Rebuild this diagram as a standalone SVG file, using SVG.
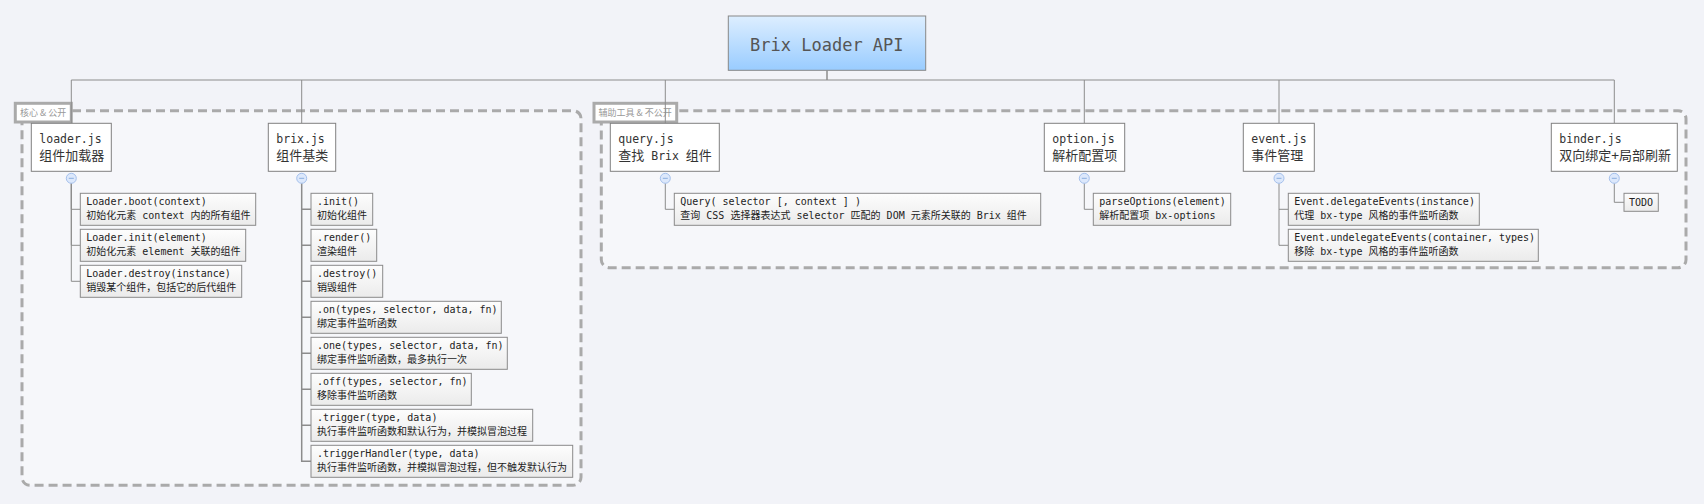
<svg xmlns="http://www.w3.org/2000/svg" width="1704" height="504" viewBox="0 0 1704 504">
<defs>
<linearGradient id="gRoot" x1="0" y1="0" x2="0" y2="1"><stop offset="0" stop-color="#ddeeff"/><stop offset="1" stop-color="#99ccff"/></linearGradient>
<linearGradient id="gChild" x1="0" y1="0" x2="0" y2="1"><stop offset="0" stop-color="#fdfdfd"/><stop offset="1" stop-color="#ebebeb"/></linearGradient>
</defs>
<style>
.bg{fill:#f2f3f8}
.grp{fill:#f6f7fa;stroke:#aaaaaa;stroke-width:3;stroke-dasharray:9 5}
.glab{fill:#ffffff;stroke:#aaaaaa;stroke-width:3}
.glt{font-family:"Noto Sans CJK SC",sans-serif;font-size:9px;fill:#999999}
.root{fill:url(#gRoot);stroke:#888888;stroke-width:1}
.rt{font-family:"DejaVu Sans Mono","Noto Sans CJK SC",monospace;font-size:17px;fill:#555555;text-anchor:middle}
.node{fill:#ffffff;stroke:#808080;stroke-width:1}
.nt{font-family:"DejaVu Sans Mono","Noto Sans CJK SC",monospace;font-size:11.5px;fill:#333333}
.c{font-size:13px}
.child{fill:url(#gChild);stroke:#8a8a8a;stroke-width:1}
.ct{font-family:"DejaVu Sans Mono","Noto Sans CJK SC",monospace;font-size:10px;fill:#222222}
.ln{fill:none;stroke:#8c8c8c;stroke-width:1}
.ln2{fill:none;stroke:#8c8c8c;stroke-width:1.5}
.tog{fill:#dce8fb;stroke:#a4c0ec;stroke-width:1}
.tm{stroke:#8aaee0;stroke-width:1}
</style>
<rect class="bg" x="0" y="0" width="1704" height="504"/>

<g id="groups">
<rect class="grp" x="22" y="110.7" width="559" height="374.6" rx="8"/>
<rect class="grp" x="601.3" y="110.7" width="1084.7" height="157" rx="8"/>
<rect class="glab" x="15.3" y="103.3" width="56" height="18.7"/>
<text class="glt" x="20" y="115.5">核心 &amp; 公开</text>
<rect class="glab" x="594" y="103.3" width="82.7" height="18.7"/>
<text class="glt" x="598.5" y="115.5">辅助工具 &amp; 不公开</text>
</g>

<g id="connectors">
<path class="ln2" d="M827 70.3V80" stroke="#aaaaaa"/>
<path class="ln" d="M71.3 80H1614.3"/>
<path class="ln" d="M71.3 80V123.3M301.7 80V123.3M665.3 80V123.3M1084.3 80V123.3M1279 80V123.3M1614.3 80V123.3"/>
<path class="ln" d="M71.3 183.3V209.3H80.3M71.3 183.3V245.3H80.3M71.3 183.3V281.3H80.3"/>
<path class="ln2" d="M301.7 183.3V461.3H311M301.7 209.3H311M301.7 245.3H311M301.7 281.3H311M301.7 317.3H311M301.7 353.3H311M301.7 389.3H311M301.7 425.3H311"/>
<path class="ln" d="M665.3 183.3V209.3H674.3"/>
<path class="ln" d="M1084.3 183.3V209.3H1093.3"/>
<path class="ln" d="M1279 183.3V245.3H1288.3M1279 209.3H1288.3"/>
<path class="ln" d="M1614.3 183.3V202.3H1624"/>
</g>

<g id="root">
<rect class="root" x="728.3" y="16" width="197.4" height="54.3"/>
<text class="rt" x="826.8" y="50.5">Brix Loader API</text>
</g>

<g id="loader">
<rect class="node" x="31.3" y="123.3" width="80" height="48"/>
<text class="nt" x="39.3" y="143.3">loader.js</text>
<text class="nt c" x="39.3" y="160.3">组件加载器</text>
<circle class="tog" cx="71.3" cy="178.3" r="5"/><path class="tm" d="M68.8 178.3H73.8"/>
</g>
<g id="loader-boot"><rect class="child" x="80.3" y="193.3" width="175.4" height="32"/><text class="ct" x="86.3" y="204.5">Loader.boot(context)</text><text class="ct" x="86.3" y="218.8">初始化元素 context 内的所有组件</text></g>
<g id="loader-init"><rect class="child" x="80.3" y="229.3" width="165.4" height="32"/><text class="ct" x="86.3" y="240.5">Loader.init(element)</text><text class="ct" x="86.3" y="254.8">初始化元素 element 关联的组件</text></g>
<g id="loader-destroy"><rect class="child" x="80.3" y="265.3" width="161.4" height="32"/><text class="ct" x="86.3" y="276.5">Loader.destroy(instance)</text><text class="ct" x="86.3" y="290.8">销毁某个组件，包括它的后代组件</text></g>

<g id="brix">
<rect class="node" x="268.3" y="123.3" width="67.4" height="48"/>
<text class="nt" x="276.3" y="143.3">brix.js</text>
<text class="nt c" x="276.3" y="160.3">组件基类</text>
<circle class="tog" cx="301.7" cy="178.3" r="5"/><path class="tm" d="M299.2 178.3H304.2"/>
</g>
<g id="brix-init"><rect class="child" x="311" y="193.3" width="61.7" height="32"/><text class="ct" x="317" y="204.5">.init()</text><text class="ct" x="317" y="218.8">初始化组件</text></g>
<g id="brix-render"><rect class="child" x="311" y="229.3" width="65.7" height="32"/><text class="ct" x="317" y="240.5">.render()</text><text class="ct" x="317" y="254.8">渲染组件</text></g>
<g id="brix-destroy"><rect class="child" x="311" y="265.3" width="71.7" height="32"/><text class="ct" x="317" y="276.5">.destroy()</text><text class="ct" x="317" y="290.8">销毁组件</text></g>
<g id="brix-on"><rect class="child" x="311" y="301.3" width="190.3" height="32"/><text class="ct" x="317" y="312.5">.on(types, selector, data, fn)</text><text class="ct" x="317" y="326.8">绑定事件监听函数</text></g>
<g id="brix-one"><rect class="child" x="311" y="337.3" width="196.3" height="32"/><text class="ct" x="317" y="348.5">.one(types, selector, data, fn)</text><text class="ct" x="317" y="362.8">绑定事件监听函数，最多执行一次</text></g>
<g id="brix-off"><rect class="child" x="311" y="373.3" width="160.3" height="32"/><text class="ct" x="317" y="384.5">.off(types, selector, fn)</text><text class="ct" x="317" y="398.8">移除事件监听函数</text></g>
<g id="brix-trigger"><rect class="child" x="311" y="409.3" width="221.7" height="32"/><text class="ct" x="317" y="420.5">.trigger(type, data)</text><text class="ct" x="317" y="434.8">执行事件监听函数和默认行为，并模拟冒泡过程</text></g>
<g id="brix-triggerHandler"><rect class="child" x="311" y="445.3" width="261.7" height="32"/><text class="ct" x="317" y="456.5">.triggerHandler(type, data)</text><text class="ct" x="317" y="470.8">执行事件监听函数，并模拟冒泡过程，但不触发默认行为</text></g>

<g id="query">
<rect class="node" x="610.3" y="123.3" width="109" height="48"/>
<text class="nt" x="618.3" y="143.3">query.js</text>
<text class="nt" x="618.3" y="160.3"><tspan class="c">查找</tspan> Brix <tspan class="c">组件</tspan></text>
<circle class="tog" cx="665.3" cy="178.3" r="5"/><path class="tm" d="M662.8 178.3H667.8"/>
</g>
<g id="query-fn"><rect class="child" x="674.3" y="193.3" width="366.4" height="32"/><text class="ct" x="680.3" y="204.5">Query( selector [, context ] )</text><text class="ct" x="680.3" y="218.8">查询 CSS 选择器表达式 selector 匹配的 DOM 元素所关联的 Brix 组件</text></g>

<g id="option">
<rect class="node" x="1044.3" y="123.3" width="80.4" height="48"/>
<text class="nt" x="1052.3" y="143.3">option.js</text>
<text class="nt c" x="1052.3" y="160.3">解析配置项</text>
<circle class="tog" cx="1084.3" cy="178.3" r="5"/><path class="tm" d="M1081.8 178.3H1086.8"/>
</g>
<g id="option-parse"><rect class="child" x="1093.3" y="193.3" width="137.4" height="32"/><text class="ct" x="1099.3" y="204.5">parseOptions(element)</text><text class="ct" x="1099.3" y="218.8">解析配置项 bx-options</text></g>

<g id="event">
<rect class="node" x="1243.3" y="123.3" width="71" height="48"/>
<text class="nt" x="1251.3" y="143.3">event.js</text>
<text class="nt c" x="1251.3" y="160.3">事件管理</text>
<circle class="tog" cx="1279" cy="178.3" r="5"/><path class="tm" d="M1276.5 178.3H1281.5"/>
</g>
<g id="event-delegate"><rect class="child" x="1288.3" y="193.3" width="191" height="32"/><text class="ct" x="1294.3" y="204.5">Event.delegateEvents(instance)</text><text class="ct" x="1294.3" y="218.8">代理 bx-type 风格的事件监听函数</text></g>
<g id="event-undelegate"><rect class="child" x="1288.3" y="229.3" width="250" height="32"/><text class="ct" x="1294.3" y="240.5">Event.undelegateEvents(container, types)</text><text class="ct" x="1294.3" y="254.8">移除 bx-type 风格的事件监听函数</text></g>

<g id="binder">
<rect class="node" x="1551.3" y="123.3" width="126" height="48"/>
<text class="nt" x="1559.3" y="143.3">binder.js</text>
<text class="nt c" x="1559.3" y="160.3">双向绑定+局部刷新</text>
<circle class="tog" cx="1614.3" cy="178.3" r="5"/><path class="tm" d="M1611.8 178.3H1616.8"/>
</g>
<g id="binder-todo"><rect class="child" x="1624" y="193.3" width="34.3" height="18" /><text class="ct" x="1629" y="205.5">TODO</text></g>
</svg>
